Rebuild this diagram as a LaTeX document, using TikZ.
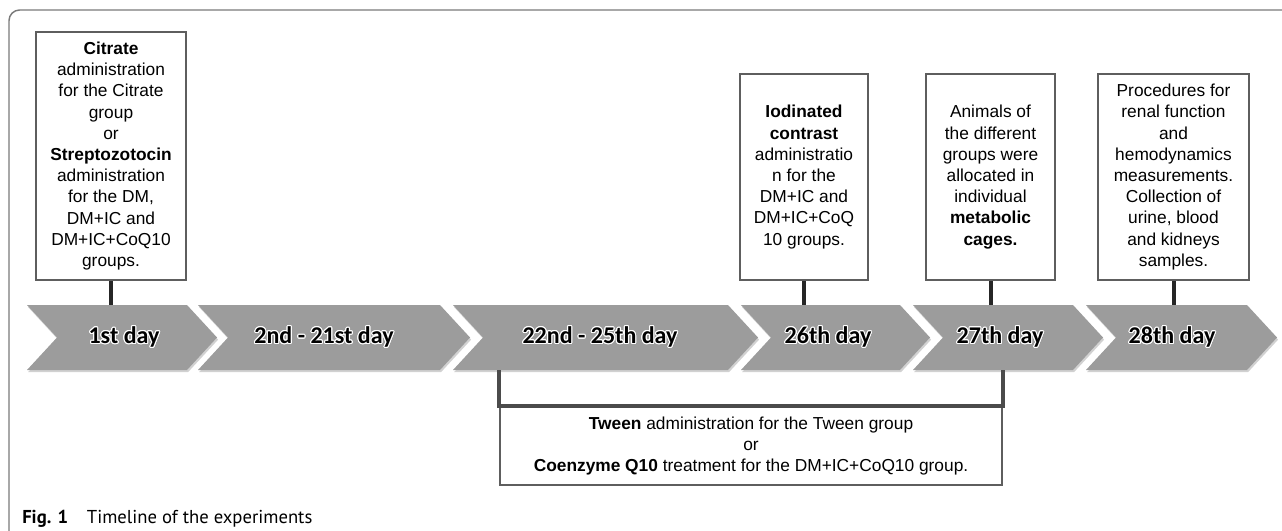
\documentclass[tikz,border=0pt]{standalone}
\usepackage{fontspec}
\setmainfont{Liberation Sans}
\newfontfamily\dayfont{Carlito}
\newfontfamily\capfont{PT Sans}
\usepackage{contour}
\contourlength{0.8pt}
\usetikzlibrary{shadows}
\definecolor{Chev}{HTML}{9C9C9C}
\definecolor{Edge}{HTML}{5E5E5E}
\definecolor{Stem}{HTML}{262626}
\definecolor{Frame}{HTML}{7A7A7A}

\begin{document}
\begin{tikzpicture}[x=0.75pt,y=-0.75pt,
    box/.style={draw=Edge,line width=1.6pt,align=center,inner sep=0pt,font=\fontsize{13pt}{15.9pt}\selectfont},
    chev/.style={fill=Chev,drop shadow={shadow xshift=.8pt,shadow yshift=-1.6pt,opacity=.3,fill=black!60}},
    day/.style={inner sep=0pt,minimum height=48.75pt,font=\dayfont\bfseries\fontsize{18pt}{20pt}\selectfont},
    stem/.style={draw=Stem,line width=3pt},
    bracket/.style={draw=Edge!80!black,line width=2.4pt}]
  \useasboundingbox (0,0) rectangle (1282,531);
  \draw[Frame,line width=1.1pt,rounded corners=8pt] (9,531) -- (9,10) -- (1282,10);
  % timeline
  \foreach \l/\r/\tx/\nm/\t in {27/187/124/d1/1st day,198/440/324/d2/2nd - 21st day,453/728/600/d3/22nd - 25th day,
      741/900/828/d4/26th day,913/1073/1000/d5/27th day,1086/1247/1172/d6/28th day}{
    \fill[chev] (\l,305) -- (\r,305) -- ({\r+30},337.5) -- (\r,370) -- (\l,370) -- ({\l+30},337.5) -- cycle;
    \node[day] (\nm) at (\tx,337.5) {\contour{white}{\t}};
  }
  % events
  \node[box,minimum width=112.5pt,minimum height=186pt] (b1) at (111,156) {\textbf{Citrate}\\administration\\for the Citrate\\group\\or\\\textbf{Streptozotocin}\\administration\\for the DM,\\DM+IC and\\DM+IC+CoQ10\\groups.};
  \node[box,minimum width=96pt,minimum height=154.5pt] (b2) at (804,177) {\textbf{Iodinated}\\\textbf{contrast}\\administratio\\n for the\\DM+IC and\\DM+IC+CoQ\\10 groups.};
  \node[box,minimum width=96.75pt,minimum height=154.5pt] (b3) at (990.5,177) {Animals of\\the different\\groups were\\allocated in\\individual\\\textbf{metabolic}\\\textbf{cages.}};
  \node[box,minimum width=113.25pt,minimum height=154.5pt] (b4) at (1173.5,177) {Procedures for\\renal function\\and\\hemodynamics\\measurements.\\Collection of\\urine, blood\\and kidneys\\samples.};
  \node[box,minimum width=376.5pt,minimum height=58.5pt] (tw) at (751,446) {\textbf{Tween} administration for the Tween group\\or\\\textbf{Coenzyme Q10} treatment for the DM+IC+CoQ10 group.};
  \draw[stem] (b1.south) -- (b1.south |- d1.north);
  \draw[stem] (b2.south) -- (b2.south |- d4.north);
  \draw[stem] (b3.south) -- (b3.south |- d5.north);
  \draw[stem] (b4.south) -- (b4.south |- d6.north);
  \draw[bracket] (tw.north west |- d3.south) -- (tw.north west) -- (tw.north east) -- (tw.north east |- d5.south);
  \node[anchor=base west,inner sep=0pt,font=\capfont\fontsize{14pt}{16pt}\selectfont] (cap) at (22,523) {\textbf{Fig. 1}\quad Timeline of the experiments};
\end{tikzpicture}
\end{document}
